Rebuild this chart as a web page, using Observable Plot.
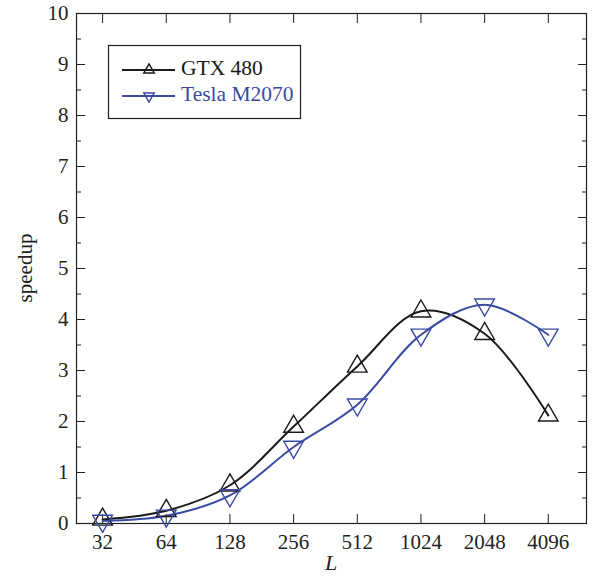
<!DOCTYPE html>
<html>
<head>
<meta charset="utf-8">
<script src="https://cdn.jsdelivr.net/npm/d3@7"></script>
<script src="https://cdn.jsdelivr.net/npm/@observablehq/plot@0.6"></script>
<style>
body { margin: 0; background: #fff; }
#chart { position: relative; width: 592px; height: 576px; }
#chart svg text { font-family: "Liberation Serif", "Times New Roman", serif !important; }
#chart svg g[aria-label$="tick label"] { font-size: 21px !important; }
#chart svg g[aria-label$="tick label"] text { font-size: 21px !important; }
</style>
</head>
<body>
<div id="chart"></div>
<script>
const sizes = [32, 64, 128, 256, 512, 1024, 2048, 4096];
const gtx480 = [0.08, 0.25, 0.75, 1.9, 3.08, 4.16, 3.72, 2.12];
const teslaM2070 = [0.05, 0.15, 0.55, 1.5, 2.33, 3.7, 4.29, 3.7];
const seriesNames = ["GTX 480", "Tesla M2070"];
const colors = ["#1a1a1a", "#3a4aa3"];
const yMajor = [0,1,2,3,4,5,6,7,8,9,10];
const yMinor = [0.5,1.5,2.5,3.5,4.5,5.5,6.5,7.5,8.5,9.5];

const data = [];
sizes.forEach((L, i) => {
  data.push({L, v: gtx480[i], s: seriesNames[0]});
  data.push({L, v: teslaM2070[i], s: seriesNames[1]});
});

const font = "'Liberation Serif', 'Times New Roman', serif";
const blank = () => "";

const plot = Plot.plot({
  width: 592,
  height: 576,
  marginLeft: 76,
  marginRight: 6,
  marginTop: 13,
  marginBottom: 53,
  style: {fontFamily: font, fontSize: "21px", color: "#231f20", background: "#fff"},
  x: {type: "log", base: 2, domain: [Math.pow(2, 4.59), Math.pow(2, 12.6)]},
  y: {domain: [0, 10]},
  color: {domain: seriesNames, range: colors},
  marks: [
    Plot.frame({stroke: "#231f20", strokeWidth: 1.2}),
    Plot.axisX({ticks: sizes, tickSize: -9, tickPadding: 20, tickFormat: d => String(d), label: null}),
    Plot.axisX({anchor: "top", ticks: sizes, tickSize: -9, tickFormat: blank, label: null}),
    Plot.axisY({ticks: yMajor, tickSize: -9, tickPadding: 17, tickFormat: d => String(d), label: null}),
    Plot.axisY({ticks: yMinor, tickSize: -5, tickFormat: blank, label: null}),
    Plot.axisY({anchor: "right", ticks: yMajor, tickSize: -9, tickFormat: blank, label: null}),
    Plot.axisY({anchor: "right", ticks: yMinor, tickSize: -5, tickFormat: blank, label: null}),
    Plot.line(data, {x: "L", y: "v", stroke: "s", z: "s", curve: "catmull-rom", strokeWidth: 2}),
    Plot.dot(data, {x: "L", y: "v", stroke: "s", symbol: "triangle", r: 7.3, strokeWidth: 1.4, fill: "none",
      rotate: d => d.s === seriesNames[1] ? 180 : 0})
  ]
});

document.getElementById("chart").appendChild(plot);

// axis titles and legend
const svg = d3.select(plot);
svg.append("text").attr("x", 27).attr("y", 268).attr("transform", "rotate(-90,27,268)")
  .attr("text-anchor", "middle").attr("dominant-baseline", "middle")
  .style("font-size", "21px").attr("fill", "#231f20").text("speedup");
svg.append("text").attr("x", 331).attr("y", 565).attr("text-anchor", "middle").attr("dominant-baseline", "middle")
  .style("font-size", "22px").style("font-style", "italic").attr("fill", "#231f20").text("L");

const lg = svg.append("g");
lg.append("rect").attr("x", 108.5).attr("y", 45.5).attr("width", 192).attr("height", 73)
  .attr("fill", "#fff").attr("stroke", "#231f20").attr("stroke-width", 1.2);
seriesNames.forEach((name, i) => {
  const y = 70 + i * 26;
  lg.append("line").attr("x1", 122).attr("x2", 175).attr("y1", y).attr("y2", y)
    .attr("stroke", colors[i]).attr("stroke-width", 2);
  lg.append("path").attr("d", d3.symbol(d3.symbolTriangle, 48)())
    .attr("transform", `translate(149,${y})` + (i === 1 ? " rotate(180)" : ""))
    .attr("fill", "none").attr("stroke", colors[i]).attr("stroke-width", 1.4);
  lg.append("text").attr("x", 181).attr("y", y).attr("text-anchor", "start").attr("dominant-baseline", "middle")
    .style("font-size", "21.5px").attr("fill", colors[i]).text(name);
});
</script>
</body>
</html>
